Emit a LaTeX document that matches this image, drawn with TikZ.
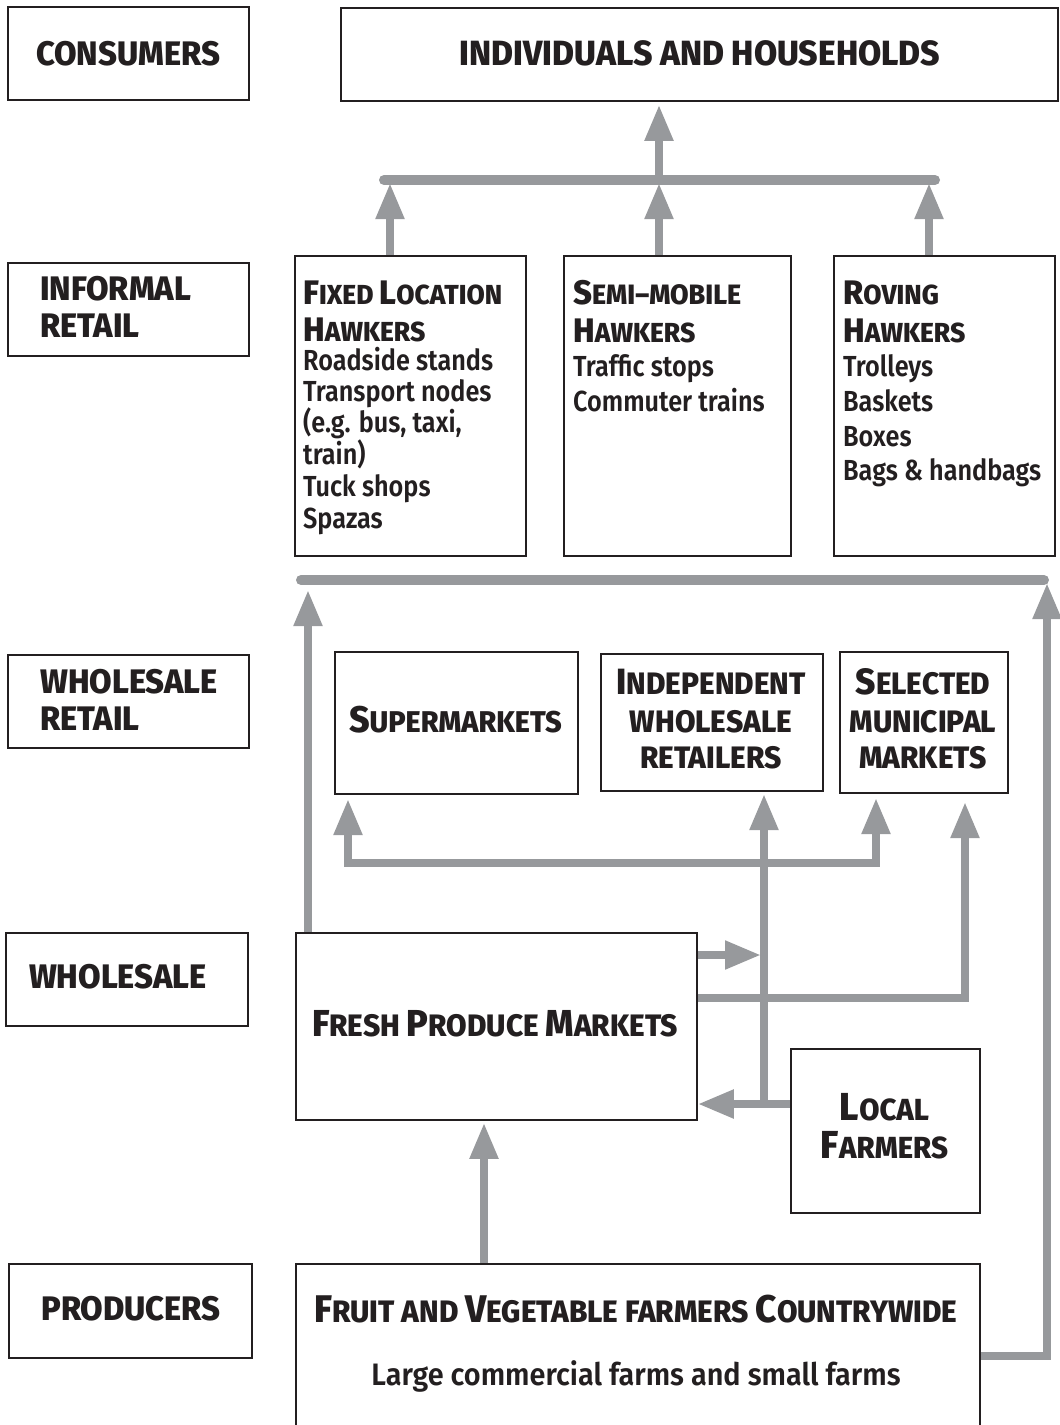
\documentclass[tikz,border=0pt]{standalone}
\usepackage{fontspec}
\usetikzlibrary{arrows.meta}
\newfontfamily\hfont{Fira Sans ExtraBold}[FakeStretch=0.96]
\newfontfamily\bfont{Fira Sans SemiBold}[FakeStretch=0.87]
\newfontfamily\bfontw{Fira Sans SemiBold}[FakeStretch=0.93]
\definecolor{ink}{HTML}{231F20}
\definecolor{gr}{HTML}{97999C}
\def\scbig{33}\def\scsmall{26}
\newcommand\SC[2]{{\fontsize{\scbig}{\scbig}\selectfont #1}{\fontsize{\scsmall}{\scsmall}\selectfont #2}}
\newcommand\SM[1]{{\fontsize{\scsmall}{\scsmall}\selectfont #1}}
\begin{document}
\begin{tikzpicture}[x=1pt,y=-1pt,
  box/.style={draw=ink, line width=1.8pt, inner sep=0pt, anchor=north west},
  lbl/.style={anchor=base, inner sep=0pt, text=ink, font=\hfont\fontsize{34}{34}\selectfont},
  lbll/.style={lbl, anchor=base west},
  sc/.style n args={2}{anchor=base, inner sep=0pt, text=ink, font={\hfont\def\scbig{#1}\def\scsmall{#2}\fontsize{#2}{#2}\selectfont}},
  scl/.style n args={2}{sc={#1}{#2}, anchor=base west},
  body/.style={anchor=base west, inner sep=0pt, text=ink, font=\bfont\fontsize{29}{29}\selectfont},
  gline/.style={draw=gr, line width=8pt, line join=miter},
  arr/.style={gline, -{Triangle[length=36pt,width=27pt]}},
  bar/.style={draw=gr, line width=10pt, line cap=round}]
\useasboundingbox (0,0) rectangle (1060,1425);

% ---------- boxes ----------
\node[box, minimum width=241, minimum height=93] (consBox) at (7,6) {};
\node[box, minimum width=241, minimum height=93] (infBox) at (7,262) {};
\node[box, minimum width=241, minimum height=93] (wrBox) at (7,654) {};
\node[box, minimum width=242, minimum height=93] (whBox) at (5,932) {};
\node[box, minimum width=243, minimum height=94] (prodBox) at (8,1263) {};

\node[box, minimum width=717, minimum height=93] (indiv) at (340,7) {};
\node[box, minimum width=231, minimum height=300] (fixed) at (294,255) {};
\node[box, minimum width=227, minimum height=300] (semi) at (563,255) {};
\node[box, minimum width=221, minimum height=300] (roving) at (833,255) {};
\node[box, minimum width=243, minimum height=142] (sup) at (334,651) {};
\node[box, minimum width=222, minimum height=137] (indep) at (600,653) {};
\node[box, minimum width=168, minimum height=141] (sel) at (839,651) {};
\node[box, minimum width=401, minimum height=187] (fresh) at (295,932) {};
\node[box, minimum width=189, minimum height=164] (local) at (790,1048) {};
\node[box, minimum width=684, minimum height=220] (fruit) at (295,1263) {};

% ---------- left labels ----------
\node[lbl] (consT) at (128,65) {CONSUMERS};
\node[lbll] (infT1) at (40,300) {INFORMAL};
\node[lbll] (infT2) at (40,337) {RETAIL};
\node[lbll] (wrT1) at (40,693) {WHOLESALE};
\node[lbll] (wrT2) at (40,730) {RETAIL};
\node[lbl] (whT) at (118,988) {WHOLESALE};
\node[lbl] (prodT) at (131,1320) {PRODUCERS};

% ---------- main texts ----------
\node[lbl, font=\hfont\fontsize{35}{35}\selectfont] (indivT) at (700,65) {INDIVIDUALS AND HOUSEHOLDS};

\node[scl={34}{27.5}] (fixH1) at (303,304) {\SC{F}{IXED} \SC{L}{OCATION}};
\node[scl={34}{27.5}] (fixH2) at (303,341) {\SC{H}{AWKERS}};
\node[body] (fix1) at (303,370) {Roadside stands};
\node[body] (fix2) at (303,401) {Transport nodes};
\node[body] (fix3) at (303,432) {(e.g. bus, taxi,};
\node[body] (fix4) at (303,464) {train)};
\node[body] (fix5) at (303,496) {Tuck shops};
\node[body] (fix6) at (303,528) {Spazas};

\node[scl={34}{28}] (semH1) at (573,304) {\SC{S}{EMI–MOBILE}};
\node[scl={34}{27.5}] (semH2) at (573,342) {\SC{H}{AWKERS}};
\node[body] (sem1) at (573,376) {Traffic stops};
\node[body] (sem2) at (573,411) {Commuter trains};

\node[scl={34}{27.5}] (rovH1) at (843,304) {\SC{R}{OVING}};
\node[scl={34}{27.5}] (rovH2) at (843,342) {\SC{H}{AWKERS}};
\node[body] (rov1) at (843,376) {Trolleys};
\node[body] (rov2) at (843,411) {Baskets};
\node[body] (rov3) at (843,446) {Boxes};
\node[body] (rov4) at (843,480) {Bags \& handbags};

\node[sc={37}{30}] (supT) at (455.5,732) {\SC{S}{UPERMARKETS}};
\node[sc={36.5}{31}] (indT1) at (711,694) {\SC{I}{NDEPENDENT}};
\node[sc={36.5}{31}] (indT2) at (711,732) {\SM{WHOLESALE}};
\node[sc={36.5}{31}] (indT3) at (711,768) {\SM{RETAILERS}};
\node[sc={36.5}{31}] (selT1) at (923,694) {\SC{S}{ELECTED}};
\node[sc={36.5}{31}] (selT2) at (923,732) {\SM{MUNICIPAL}};
\node[sc={36.5}{31}] (selT3) at (923,768) {\SM{MARKETS}};

\node[sc={37.5}{31}] (freshT) at (495,1036) {\SC{F}{RESH} \SC{P}{RODUCE} \SC{M}{ARKETS}};
\node[sc={39}{30.5}] (locT1) at (884.5,1120) {\SC{L}{OCAL}};
\node[sc={39}{30.5}] (locT2) at (884.5,1158) {\SC{F}{ARMERS}};

\node[sc={38.5}{31}] (fruitT) at (636,1322) {\SC{F}{RUIT AND} \SC{V}{EGETABLE FARMERS} \SC{C}{OUNTRYWIDE}};
\node[body, anchor=base, font=\bfontw\fontsize{31}{31}\selectfont] (fruitB) at (636,1385) {Large commercial farms and small farms};

% ---------- connectors: top ----------
\coordinate (barA) at (384,180);
\coordinate (barB) at (935,180);
\coordinate (t0) at (659,180);
\coordinate (t1) at (390,183);
\coordinate (t2) at (659,183);
\coordinate (t3) at (929,183);
\draw[bar] (barA) -- (barB);
\draw[arr] (t0) -- ([yshift=-3pt]indiv.south -| t0);
\draw[arr] (fixed.north -| t1) -- (t1);
\draw[arr] (semi.north -| t2) -- (t2);
\draw[arr] (roving.north -| t3) -- (t3);

% ---------- connectors: middle ----------
\coordinate (mA) at (301,580);
\coordinate (mB) at (1044,580);
\coordinate (m1) at (308,590);
\coordinate (m2) at (1047,583);
\coordinate (c1) at (1047,1356);
\draw[bar] (mA) -- (mB);
\draw[arr] (fresh.north -| m1) -- (m1);
\draw[arr] (fruit.east |- c1) -- (c1) -- (m2);

% ---------- connectors: lower ----------
\coordinate (k1) at (348,799);
\coordinate (k2) at (348,863);
\coordinate (k3) at (876,863);
\coordinate (k4) at (876,798);
\draw[gline, {Triangle[length=36pt,width=27pt]}-{Triangle[length=36pt,width=27pt]}] (k1) -- (k2) -- (k3) -- (k4);

\coordinate (v0) at (764,1104);
\coordinate (v1) at (764,794);
\draw[arr] (v0) -- (v1);

\coordinate (r1) at (761,955);
\draw[arr] (fresh.east |- r1) -- (r1);

\coordinate (q1) at (965,998);
\coordinate (q2) at (965,802);
\draw[arr] (fresh.east |- q1) -- (q1) -- (q2);

\draw[arr] (local.west |- v0) -- (fresh.east |- v0);

\coordinate (f1) at (484,1200);
\draw[arr] (fruit.north -| f1) -- ([yshift=-2pt]fresh.south -| f1);
\end{tikzpicture}
\end{document}
